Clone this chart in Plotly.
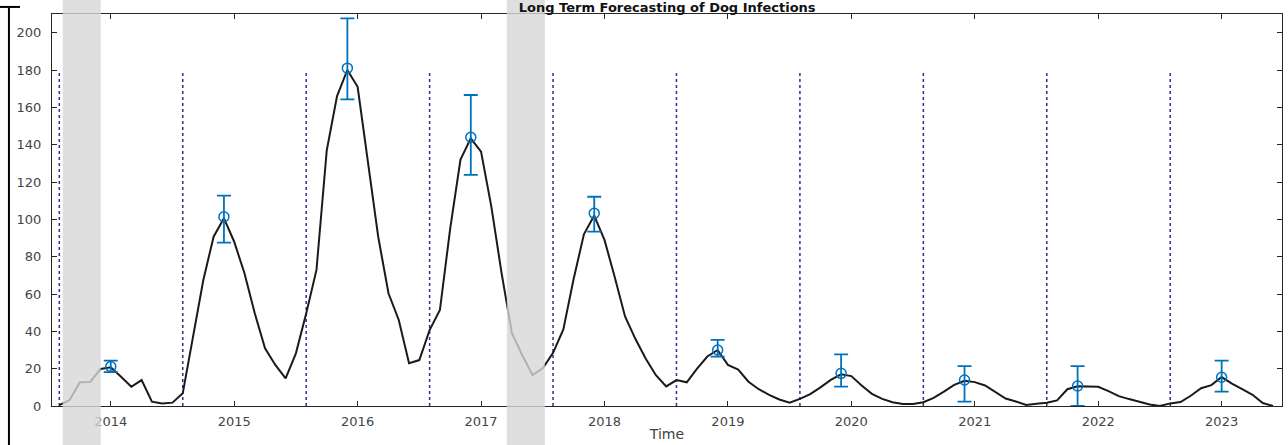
import numpy as np
import plotly.graph_objects as go

# ---------------- data ----------------
start_year = 2013 + 7 / 12  # August 2013, monthly samples
cases = [
    0.5, 3.2, 12.7, 12.9, 19.8, 20.7, 15.7, 10.3, 13.9, 2.3, 1.4, 1.8,
    6.8, 37, 67.5, 90.7, 100.6, 88, 71.1, 49.7, 30.9, 22, 14.8, 28.2,
    49.6, 72.9, 137, 166, 180, 171, 132, 90.7, 60.4, 46.1, 22.9, 24.6,
    40.7, 51.4, 95, 132, 143.4, 136.3, 106.8, 71.1, 39, 27.3, 16.6, 20.2,
    28.5, 41, 68, 92, 102, 89, 69, 48, 36, 25.5, 16.5, 10.5,
    13.9, 12.7, 20, 26.5, 30, 22, 19.5, 13, 9, 6, 3.5, 1.8,
    3.8, 6.4, 10, 14, 17, 16, 11, 6.5, 3.8, 2, 1.1, 1.1,
    2, 4.3, 7.7, 11.3, 13.5, 12.8, 11, 7.3, 4, 2.4, 0.6, 1.2,
    1.8, 3, 9, 10.6, 10.4, 10.3, 8, 5.3, 3.7, 2.4, 0.8, 0,
    1.4, 2.1, 5.5, 9.5, 11.2, 15.5, 12, 9, 6, 1.6, 0,
]
time = start_year + np.arange(len(cases)) / 12

peak_time = [2014.0, 2014.917, 2015.917, 2016.917, 2017.917,
             2018.917, 2019.917, 2020.917, 2021.833, 2023.0]
peak_value = [21.1, 101.4, 181, 144, 103.2, 30, 17.5, 13.9, 10.7, 15.4]
peak_upper = [24.3, 112.7, 207.7, 166.6, 112.1, 35.4, 27.7, 21.4, 21.4, 24.3]
peak_lower = [18.2, 87.5, 164.3, 123.8, 93.4, 26.4, 10.4, 2.3, 0, 7.7]

season_marks = [y + 7 / 12 for y in range(2013, 2023)]
season_top = 180

bands = [(2013.611, 2013.919), (2017.209, 2017.517)]

year_ticks = list(range(2014, 2024))
year_labels = [str(y) for y in year_ticks]
y_ticks = list(range(0, 201, 20))

# ---------------- figure ----------------
fig = go.Figure()

# dotted season separators
sx, sy = [], []
for m in season_marks:
    sx += [m, m, None]
    sy += [0, season_top, None]
fig.add_trace(go.Scatter(x=sx, y=sy, mode="lines",
                         line=dict(color="rgb(45,45,150)", width=1.5, dash="dot"),
                         hoverinfo="skip", showlegend=False))

# main curve
fig.add_trace(go.Scatter(x=time, y=cases, mode="lines",
                         line=dict(color="#1a1a1a", width=2),
                         showlegend=False))

# peaks with error bars
fig.add_trace(go.Scatter(
    x=peak_time, y=peak_value, mode="markers",
    marker=dict(symbol="circle-open", size=10, color="#0072BD",
                line=dict(width=1.5, color="#0072BD")),
    error_y=dict(type="data", symmetric=False,
                 array=[u - v for u, v in zip(peak_upper, peak_value)],
                 arrayminus=[v - l for v, l in zip(peak_value, peak_lower)],
                 color="#0072BD", thickness=1.8, width=7),
    showlegend=False))

shapes = []
for a, b in bands:
    shapes.append(dict(type="rect", xref="x", yref="paper", x0=a, x1=b,
                       y0=-0.12, y1=1.06, fillcolor="rgba(215,215,215,0.8)",
                       line=dict(width=0), layer="above"))
# frame fragments of the original figure crop
shapes.append(dict(type="line", xref="paper", yref="paper",
                   x0=-0.035, x1=-0.035, y0=-0.12, y1=1.016,
                   line=dict(color="black", width=2)))
shapes.append(dict(type="line", xref="paper", yref="paper",
                   x0=-0.045, x1=-0.026, y0=1.018, y1=1.018,
                   line=dict(color="black", width=2)))

axis_common = dict(showline=True, linecolor="#262626", linewidth=1,
                   mirror="allticks", ticks="inside", ticklen=5,
                   tickcolor="#262626", showgrid=False, zeroline=False,
                   tickfont=dict(family="DejaVu Sans", size=13, color="#454545"))

fig.update_layout(
    width=1288, height=445,
    margin=dict(l=52, r=6, t=14, b=39),
    paper_bgcolor="white", plot_bgcolor="white",
    title=dict(text="<b>Long Term Forecasting of Dog Infections</b>",
               x=0.518, xanchor="center", y=0.993, yanchor="top",
               yref="container", pad=dict(t=0, b=0),
               font=dict(family="DejaVu Sans", size=13, color="#111111")),
    xaxis=dict(range=[2013.524, 2023.489], tickvals=year_ticks,
               ticktext=year_labels, ticklabelstandoff=3,
               title=dict(text="Time", standoff=1,
                          font=dict(family="DejaVu Sans", size=14, color="#404040")),
               **axis_common),
    yaxis=dict(range=[0, 210], tickvals=y_ticks, ticklabelstandoff=7,
               **axis_common),
    shapes=shapes,
)

fig.write_html("out.html")
